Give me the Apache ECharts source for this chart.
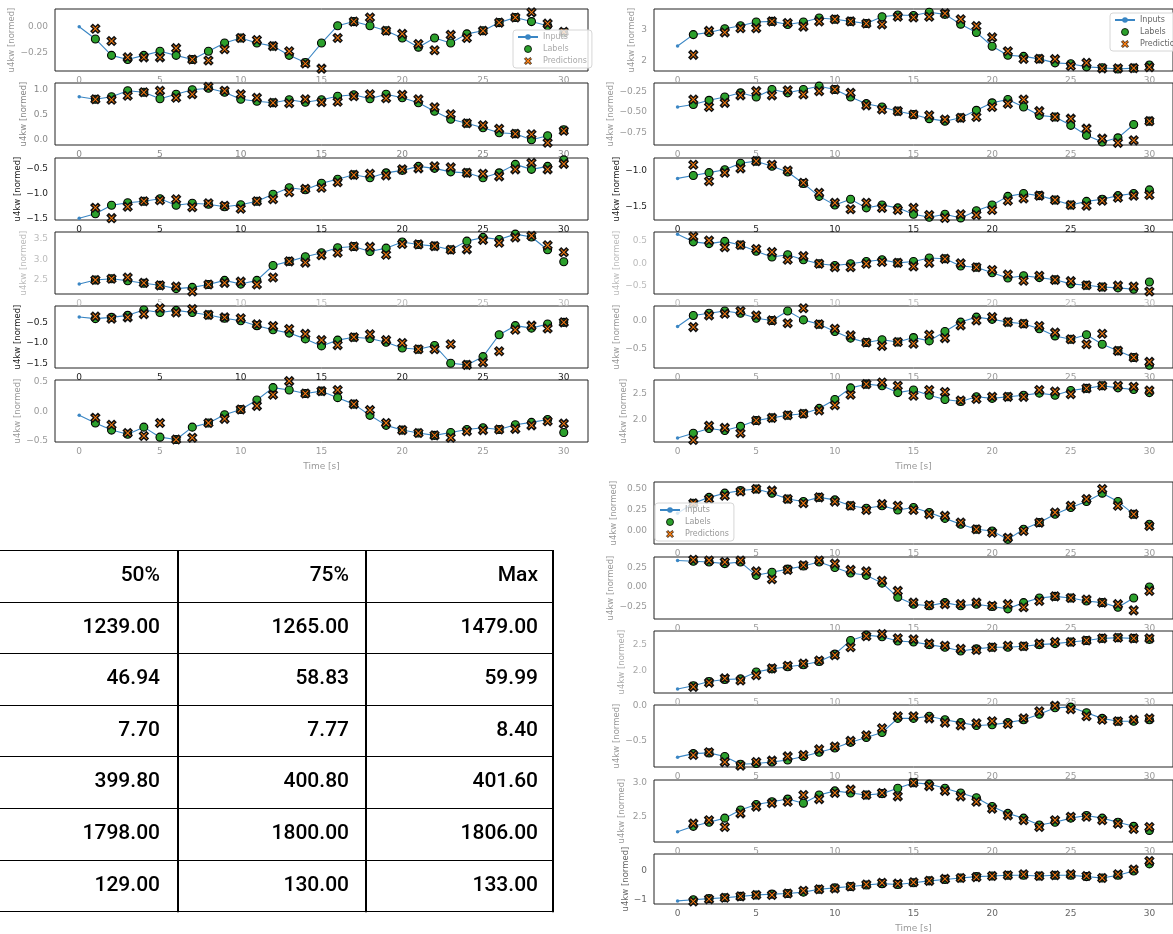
<!DOCTYPE html>
<html>
<head>
<meta charset="utf-8">
<script src="https://cdn.jsdelivr.net/npm/echarts@6/dist/echarts.min.js"></script>
<style>
html,body{margin:0;padding:0;background:#fff;}
#chart{width:1173px;height:934px;}
</style>
</head>
<body>
<div id="chart"></div>
<script>
// ---------- shared axis data ----------
const xTicks = [0, 5, 10, 15, 20, 25, 30];
const seriesNames = ['Inputs', 'Labels', 'Predictions'];
const yAxisTitle = 'u4kw [normed]';
const xAxisTitle = 'Time [s]';

// Each window: values at t = 0..30 (inputs are t = 0..29, labels t = 1..30),
// predictions at t = 1..30.

// ---------- left column ----------
const L1_values = [0.00, -0.12, -0.28, -0.32, -0.28, -0.24, -0.28, -0.32, -0.24, -0.16, -0.11, -0.16, -0.19, -0.28, -0.35, -0.16, 0.01, 0.05, 0.01, -0.04, -0.11, -0.20, -0.11, -0.16, -0.07, -0.04, 0.04, 0.09, 0.05, 0.01, -0.06];
const L1_preds = [-0.02, -0.14, -0.30, -0.30, -0.30, -0.21, -0.32, -0.33, -0.22, -0.11, -0.13, -0.19, -0.24, -0.36, -0.41, -0.11, 0.05, 0.09, -0.04, -0.07, -0.17, -0.23, -0.08, -0.11, -0.04, 0.04, 0.09, 0.14, 0.03, -0.05];
const L1_yticks = [-0.25, 0.00];
const L1_yrange = [-0.433, 0.173];

const L2_values = [0.85, 0.80, 0.85, 0.97, 0.94, 0.81, 0.90, 0.99, 1.02, 0.94, 0.80, 0.76, 0.73, 0.79, 0.74, 0.79, 0.86, 0.89, 0.81, 0.90, 0.83, 0.73, 0.56, 0.40, 0.32, 0.23, 0.13, 0.11, -0.01, 0.07, 0.19];
const L2_preds = [0.80, 0.79, 0.87, 0.94, 0.97, 0.83, 0.90, 1.05, 0.97, 0.90, 0.83, 0.73, 0.72, 0.80, 0.74, 0.75, 0.86, 0.90, 0.82, 0.89, 0.80, 0.64, 0.50, 0.32, 0.28, 0.21, 0.11, 0.10, -0.07, 0.17];
const L2_yticks = [0.0, 0.5, 1.0];
const L2_yrange = [-0.114, 1.126];

const L3_values = [-1.50, -1.41, -1.24, -1.19, -1.16, -1.11, -1.24, -1.20, -1.22, -1.27, -1.23, -1.16, -1.02, -0.89, -0.93, -0.80, -0.72, -0.63, -0.69, -0.59, -0.54, -0.46, -0.50, -0.57, -0.59, -0.69, -0.59, -0.42, -0.52, -0.46, -0.33];
const L3_preds = [-1.29, -1.50, -1.27, -1.16, -1.14, -1.12, -1.28, -1.20, -1.25, -1.31, -1.16, -1.12, -0.98, -0.91, -0.89, -0.78, -0.63, -0.61, -0.64, -0.52, -0.50, -0.46, -0.48, -0.59, -0.61, -0.66, -0.52, -0.39, -0.52, -0.41];
const L3_yticks = [-1.5, -1.0, -0.5];
const L3_yrange = [-1.537, -0.292];

const L4_values = [2.40, 2.50, 2.53, 2.48, 2.42, 2.37, 2.29, 2.32, 2.39, 2.49, 2.40, 2.49, 2.85, 2.95, 3.06, 3.16, 3.28, 3.31, 3.19, 3.27, 3.42, 3.36, 3.32, 3.23, 3.44, 3.53, 3.48, 3.61, 3.54, 3.23, 2.94];
const L4_preds = [2.50, 2.53, 2.56, 2.43, 2.37, 2.34, 2.22, 2.39, 2.43, 2.46, 2.39, 2.56, 2.95, 2.92, 3.10, 3.16, 3.31, 3.30, 3.11, 3.37, 3.36, 3.32, 3.23, 3.24, 3.47, 3.40, 3.53, 3.57, 3.34, 3.17];
const L4_yticks = [2.5, 3.0, 3.5];
const L4_yrange = [2.160, 3.661];

const L5_values = [-0.37, -0.41, -0.38, -0.33, -0.20, -0.26, -0.21, -0.26, -0.32, -0.40, -0.46, -0.58, -0.68, -0.76, -0.90, -1.07, -0.93, -0.86, -0.89, -0.98, -1.12, -1.15, -1.06, -1.49, -1.53, -1.33, -0.80, -0.58, -0.64, -0.54, -0.50];
const L5_preds = [-0.36, -0.41, -0.38, -0.30, -0.16, -0.26, -0.18, -0.32, -0.38, -0.40, -0.55, -0.59, -0.66, -0.78, -0.93, -1.05, -0.86, -0.79, -0.93, -1.00, -1.15, -1.15, -1.03, -1.53, -1.47, -1.20, -0.68, -0.58, -0.65, -0.50];
const L5_yticks = [-1.5, -1.0, -0.5];
const L5_yrange = [-1.605, -0.104];

const L6_values = [-0.07, -0.20, -0.32, -0.39, -0.27, -0.44, -0.48, -0.27, -0.20, -0.06, 0.03, 0.19, 0.40, 0.36, 0.30, 0.34, 0.23, 0.12, -0.07, -0.24, -0.32, -0.37, -0.41, -0.36, -0.31, -0.28, -0.31, -0.23, -0.19, -0.14, -0.36];
const L6_preds = [-0.11, -0.23, -0.37, -0.42, -0.20, -0.48, -0.45, -0.20, -0.13, 0.03, 0.09, 0.28, 0.51, 0.30, 0.34, 0.36, 0.12, 0.02, -0.20, -0.32, -0.37, -0.41, -0.45, -0.34, -0.32, -0.31, -0.30, -0.24, -0.17, -0.21];
const L6_yticks = [-0.5, 0.0, 0.5];
const L6_yrange = [-0.522, 0.529];

// ---------- right column, upper block ----------
const R1_values = [2.47, 2.84, 2.91, 3.03, 3.13, 3.25, 3.27, 3.17, 3.25, 3.38, 3.34, 3.27, 3.20, 3.42, 3.48, 3.46, 3.57, 3.50, 3.18, 2.91, 2.46, 2.17, 2.13, 2.05, 1.92, 1.89, 1.79, 1.76, 1.72, 1.75, 1.85];
const R1_preds = [2.18, 2.96, 2.91, 3.05, 3.05, 3.27, 3.22, 3.10, 3.27, 3.34, 3.27, 3.20, 3.17, 3.42, 3.40, 3.42, 3.53, 3.34, 3.12, 2.75, 2.30, 2.05, 2.05, 2.04, 1.82, 1.92, 1.74, 1.74, 1.75, 1.78];
const R1_yticks = [2, 3];
const R1_yrange = [1.655, 3.674];

const R2_values = [-0.44, -0.41, -0.36, -0.32, -0.27, -0.32, -0.23, -0.27, -0.23, -0.19, -0.23, -0.32, -0.40, -0.44, -0.49, -0.53, -0.58, -0.61, -0.57, -0.48, -0.39, -0.35, -0.44, -0.54, -0.56, -0.66, -0.78, -0.86, -0.81, -0.65, -0.61];
const R2_preds = [-0.35, -0.44, -0.39, -0.30, -0.25, -0.30, -0.24, -0.29, -0.25, -0.23, -0.27, -0.42, -0.47, -0.49, -0.53, -0.54, -0.59, -0.57, -0.56, -0.44, -0.40, -0.35, -0.49, -0.56, -0.58, -0.70, -0.82, -0.87, -0.84, -0.61];
const R2_yticks = [-0.75, -0.50, -0.25];
const R2_yrange = [-0.896, -0.152];

const R3_values = [-1.11, -1.07, -1.03, -0.99, -0.90, -0.87, -0.94, -1.02, -1.18, -1.36, -1.48, -1.40, -1.52, -1.48, -1.52, -1.61, -1.65, -1.61, -1.66, -1.56, -1.48, -1.36, -1.32, -1.35, -1.41, -1.48, -1.43, -1.40, -1.35, -1.32, -1.27];
const R3_preds = [-0.92, -1.15, -1.03, -0.97, -0.87, -0.92, -1.00, -1.17, -1.31, -1.45, -1.54, -1.45, -1.52, -1.55, -1.52, -1.62, -1.66, -1.61, -1.62, -1.55, -1.42, -1.39, -1.35, -1.41, -1.48, -1.49, -1.42, -1.38, -1.35, -1.34];
const R3_yticks = [-1.5, -1.0];
const R3_yrange = [-1.689, -0.826];

const R4_values = [0.65, 0.48, 0.44, 0.49, 0.41, 0.27, 0.14, 0.19, 0.08, -0.01, -0.05, -0.01, 0.04, 0.08, 0.01, 0.04, 0.12, 0.10, -0.06, -0.09, -0.21, -0.33, -0.28, -0.32, -0.37, -0.46, -0.49, -0.53, -0.55, -0.58, -0.42];
const R4_preds = [0.60, 0.51, 0.36, 0.41, 0.32, 0.25, 0.08, 0.16, -0.01, -0.09, -0.09, -0.01, 0.03, 0.01, -0.07, 0.01, 0.10, 0.00, -0.09, -0.15, -0.25, -0.39, -0.28, -0.37, -0.40, -0.49, -0.53, -0.50, -0.52, -0.63];
const R4_yticks = [-0.5, 0.0, 0.5];
const R4_yrange = [-0.687, 0.700];

const R5_values = [-0.10, 0.10, 0.14, 0.18, 0.14, 0.05, 0.01, 0.18, 0.02, -0.06, -0.19, -0.31, -0.39, -0.34, -0.38, -0.30, -0.36, -0.19, -0.02, 0.07, 0.03, -0.02, -0.05, -0.14, -0.27, -0.33, -0.25, -0.42, -0.54, -0.66, -0.80];
const R5_preds = [-0.11, 0.10, 0.13, 0.18, 0.10, 0.01, -0.04, 0.23, -0.06, -0.14, -0.26, -0.39, -0.45, -0.38, -0.41, -0.25, -0.31, -0.08, 0.01, 0.07, -0.02, -0.05, -0.09, -0.21, -0.33, -0.42, -0.23, -0.54, -0.66, -0.74];
const R5_yticks = [-0.5, 0.0];
const R5_yrange = [-0.850, 0.271];

const R6_values = [1.66, 1.75, 1.84, 1.80, 1.88, 1.99, 2.04, 2.09, 2.12, 2.22, 2.39, 2.61, 2.68, 2.65, 2.52, 2.57, 2.47, 2.39, 2.35, 2.44, 2.41, 2.44, 2.47, 2.51, 2.47, 2.56, 2.60, 2.65, 2.61, 2.58, 2.52];
const R6_preds = [1.62, 1.89, 1.85, 1.75, 1.99, 2.04, 2.09, 2.12, 2.18, 2.28, 2.48, 2.68, 2.71, 2.65, 2.46, 2.57, 2.53, 2.37, 2.40, 2.44, 2.44, 2.44, 2.57, 2.54, 2.49, 2.60, 2.65, 2.65, 2.63, 2.56];
const R6_yticks = [2.0, 2.5];
const R6_yrange = [1.583, 2.759];

// ---------- right column, lower block ----------
const B1_values = [0.21, 0.33, 0.40, 0.45, 0.48, 0.50, 0.45, 0.38, 0.35, 0.40, 0.37, 0.30, 0.27, 0.30, 0.25, 0.28, 0.22, 0.15, 0.08, 0.02, 0.00, -0.10, 0.02, 0.10, 0.20, 0.28, 0.35, 0.45, 0.35, 0.20, 0.08];
const B1_preds = [0.33, 0.38, 0.42, 0.47, 0.50, 0.48, 0.38, 0.33, 0.40, 0.35, 0.30, 0.25, 0.32, 0.30, 0.25, 0.20, 0.18, 0.10, 0.02, -0.02, -0.08, 0.00, 0.10, 0.22, 0.30, 0.38, 0.50, 0.30, 0.20, 0.06];
const B1_yticks = [0.00, 0.25, 0.50];
const B1_yrange = [-0.155, 0.583];

const B2_values = [0.34, 0.33, 0.32, 0.30, 0.32, 0.15, 0.19, 0.23, 0.27, 0.32, 0.25, 0.18, 0.15, 0.05, -0.13, -0.22, -0.24, -0.20, -0.24, -0.22, -0.25, -0.28, -0.20, -0.14, -0.12, -0.14, -0.18, -0.20, -0.26, -0.14, 0.00];
const B2_preds = [0.35, 0.34, 0.32, 0.34, 0.20, 0.10, 0.22, 0.28, 0.34, 0.30, 0.22, 0.20, 0.08, -0.05, -0.20, -0.23, -0.22, -0.22, -0.20, -0.24, -0.22, -0.26, -0.18, -0.12, -0.14, -0.16, -0.20, -0.22, -0.30, -0.05];
const B2_yticks = [-0.25, 0.00, 0.25];
const B2_yrange = [-0.41, 0.385];

const B3_values = [1.66, 1.72, 1.80, 1.84, 1.85, 1.98, 2.04, 2.08, 2.12, 2.18, 2.32, 2.58, 2.68, 2.65, 2.57, 2.55, 2.50, 2.45, 2.38, 2.42, 2.45, 2.45, 2.47, 2.50, 2.52, 2.55, 2.58, 2.62, 2.63, 2.62, 2.60];
const B3_preds = [1.70, 1.78, 1.86, 1.82, 1.92, 2.05, 2.10, 2.14, 2.20, 2.30, 2.45, 2.66, 2.70, 2.62, 2.60, 2.52, 2.48, 2.42, 2.40, 2.45, 2.48, 2.47, 2.52, 2.55, 2.55, 2.58, 2.62, 2.63, 2.62, 2.62];
const B3_yticks = [2.0, 2.5];
const B3_yrange = [1.583, 2.759];

const B4_values = [-0.73, -0.68, -0.67, -0.72, -0.83, -0.82, -0.80, -0.77, -0.72, -0.66, -0.60, -0.52, -0.45, -0.38, -0.18, -0.18, -0.15, -0.20, -0.24, -0.28, -0.27, -0.24, -0.20, -0.12, -0.03, -0.02, -0.10, -0.18, -0.22, -0.22, -0.20];
const B4_preds = [-0.70, -0.66, -0.80, -0.85, -0.80, -0.78, -0.72, -0.70, -0.62, -0.58, -0.50, -0.42, -0.32, -0.15, -0.15, -0.18, -0.24, -0.28, -0.25, -0.22, -0.26, -0.18, -0.08, 0.00, -0.05, -0.15, -0.20, -0.22, -0.20, -0.18];
const B4_yticks = [-0.5, 0.0];
const B4_yrange = [-0.87, 0.01];

const B5_values = [2.28, 2.36, 2.42, 2.48, 2.60, 2.68, 2.72, 2.76, 2.70, 2.82, 2.88, 2.85, 2.82, 2.84, 2.92, 3.00, 2.98, 2.92, 2.85, 2.78, 2.65, 2.55, 2.48, 2.38, 2.42, 2.48, 2.52, 2.48, 2.42, 2.36, 2.30];
const B5_preds = [2.40, 2.45, 2.35, 2.55, 2.65, 2.70, 2.72, 2.82, 2.76, 2.85, 2.90, 2.82, 2.85, 2.80, 3.00, 2.95, 2.88, 2.80, 2.72, 2.62, 2.52, 2.45, 2.35, 2.45, 2.50, 2.50, 2.45, 2.40, 2.32, 2.35];
const B5_yticks = [2.5, 3.0];
const B5_yrange = [2.13, 3.04];

const B6_values = [-1.06, -1.02, -0.98, -0.95, -0.90, -0.85, -0.82, -0.80, -0.75, -0.65, -0.60, -0.55, -0.50, -0.45, -0.48, -0.42, -0.35, -0.30, -0.25, -0.20, -0.18, -0.15, -0.15, -0.18, -0.15, -0.15, -0.20, -0.25, -0.15, 0.00, 0.25];
const B6_preds = [-1.08, -1.00, -0.95, -0.90, -0.85, -0.85, -0.80, -0.70, -0.65, -0.62, -0.55, -0.48, -0.42, -0.45, -0.40, -0.35, -0.28, -0.25, -0.22, -0.18, -0.15, -0.12, -0.18, -0.15, -0.12, -0.18, -0.25, -0.12, 0.05, 0.35];
const B6_yticks = [-1, 0];
const B6_yrange = [-1.17, 0.60];

// ---------- summary table ----------
const tableHeader = ['50%', '75%', 'Max'];
const col50 = [1239.00, 46.94, 7.70, 399.80, 1798.00, 129.00];
const col75 = [1265.00, 58.83, 7.77, 400.80, 1800.00, 130.00];
const colMax = [1479.00, 59.99, 8.40, 401.60, 1806.00, 133.00];

// ---------- layout ----------
const blocks = [
  { left: 55, tops: [9, 83, 158, 232, 306, 380],
    ink: ['#999', '#888', '#222', '#bbb', '#222', '#999'],
    nameGap: [38, 27, 32, 27, 32, 32],
    legend: { left: 513, top: 30, color: '#aaa' } },
  { left: 654, tops: [9, 83, 158, 232, 306, 380],
    ink: ['#999', '#999', '#222', '#bbb', '#999', '#999'],
    nameGap: [18, 37, 31, 31, 32, 25],
    legend: { left: 1110, top: 13, color: '#666' } },
  { left: 654, tops: [482, 557, 631, 705, 780, 854],
    ink: ['#999', '#999', '#aaa', '#999', '#999', '#666'],
    nameGap: [36, 36, 28, 28, 28, 20],
    legend: { left: 655, top: 503, color: '#999' } }
];
const plotWidth = 533;
const plotHeight = 62;

const panelData = [
  [[L1_values, L1_preds, L1_yticks, L1_yrange, 2], [L2_values, L2_preds, L2_yticks, L2_yrange, 1],
   [L3_values, L3_preds, L3_yticks, L3_yrange, 1], [L4_values, L4_preds, L4_yticks, L4_yrange, 1],
   [L5_values, L5_preds, L5_yticks, L5_yrange, 1], [L6_values, L6_preds, L6_yticks, L6_yrange, 1]],
  [[R1_values, R1_preds, R1_yticks, R1_yrange, 0], [R2_values, R2_preds, R2_yticks, R2_yrange, 2],
   [R3_values, R3_preds, R3_yticks, R3_yrange, 1], [R4_values, R4_preds, R4_yticks, R4_yrange, 1],
   [R5_values, R5_preds, R5_yticks, R5_yrange, 1], [R6_values, R6_preds, R6_yticks, R6_yrange, 1]],
  [[B1_values, B1_preds, B1_yticks, B1_yrange, 2], [B2_values, B2_preds, B2_yticks, B2_yrange, 2],
   [B3_values, B3_preds, B3_yticks, B3_yrange, 1], [B4_values, B4_preds, B4_yticks, B4_yrange, 1],
   [B5_values, B5_preds, B5_yticks, B5_yrange, 1], [B6_values, B6_preds, B6_yticks, B6_yrange, 0]]
];

const FONT = 'DejaVu Sans';
const lineColor = '#3a86c4';
const labelColor = '#2ca02c';
const predColor = '#ff7f0e';
const xMarker = 'path://M0,2 L2,0 L5,3 L8,0 L10,2 L7,5 L10,8 L8,10 L5,7 L2,10 L0,8 L3,5 Z';

function tickText(dec) {
  return function (v) {
    const s = Math.abs(v).toFixed(dec);
    return (v < -1e-9 ? '\u2212' : '') + s;
  };
}

const grid = [], xAxis = [], yAxis = [], series = [], legend = [];
let idx = 0;
blocks.forEach((blk, g) => {
  panelData[g].forEach((pd, r) => {
    const [vals, preds, yticks, yrange, dec] = pd;
    const ink = blk.ink[r];
    grid.push({ left: blk.left, top: blk.tops[r], width: plotWidth, height: plotHeight,
      show: true, borderColor: '#222', borderWidth: 1, backgroundColor: 'transparent' });
    const isLast = r === 5;
    xAxis.push({
      type: 'value', gridIndex: idx, min: -1.5, max: 31.5,
      splitLine: { show: false }, axisLine: { show: false }, axisTick: { show: false },
      axisLabel: { customValues: xTicks, color: ink, fontFamily: FONT, fontSize: 9, margin: 5 },
      name: isLast ? xAxisTitle : '', nameLocation: 'middle', nameGap: 20,
      nameTextStyle: { color: '#999', fontFamily: FONT, fontSize: 9 }
    });
    yAxis.push({
      type: 'value', gridIndex: idx, min: yrange[0], max: yrange[1],
      splitLine: { show: false }, axisLine: { show: false }, axisTick: { show: false },
      axisLabel: { customValues: yticks, formatter: tickText(dec), color: ink, fontFamily: FONT, fontSize: 9, margin: 7 },
      name: yAxisTitle, nameLocation: 'middle', nameRotate: 90, nameGap: blk.nameGap[r],
      nameTextStyle: { color: ink, fontFamily: FONT, fontSize: 8.5 }
    });
    const inputs = vals.slice(0, 30).map((v, i) => [i, v]);
    const labels = vals.slice(1).map((v, i) => [i + 1, v]);
    const predPts = preds.map((v, i) => [i + 1, v]);
    series.push({
      name: seriesNames[0], type: 'line', xAxisIndex: idx, yAxisIndex: idx, data: inputs,
      symbol: 'circle', symbolSize: 3.5, showSymbol: true, z: 2,
      lineStyle: { color: lineColor, width: 1.1 }, itemStyle: { color: lineColor },
      animation: false, silent: true
    });
    series.push({
      name: seriesNames[1], type: 'scatter', xAxisIndex: idx, yAxisIndex: idx, data: labels,
      symbol: 'circle', symbolSize: 8, z: 3,
      itemStyle: { color: labelColor, borderColor: '#000', borderWidth: 1.1, opacity: 1 },
      animation: false, silent: true
    });
    series.push({
      name: seriesNames[2], type: 'scatter', xAxisIndex: idx, yAxisIndex: idx, data: predPts,
      symbol: xMarker, symbolSize: 8.5, z: 4,
      itemStyle: { color: predColor, borderColor: '#111', borderWidth: 1.5, opacity: 1 },
      animation: false, silent: true
    });
    idx++;
  });
  legend.push({
    show: true, left: blk.legend.left, top: blk.legend.top, orient: 'vertical',
    data: [
      { name: seriesNames[0] },
      { name: seriesNames[1], icon: 'circle', itemStyle: { color: labelColor, borderColor: '#000', borderWidth: 0.8 } },
      { name: seriesNames[2], icon: xMarker, itemStyle: { color: predColor, borderColor: '#000', borderWidth: 0.8 } }
    ],
    itemWidth: 20, itemHeight: 7, itemGap: 4,
    padding: [3, 5, 3, 4], backgroundColor: 'rgba(255,255,255,0.8)',
    borderColor: '#d6d6d6', borderWidth: 1, borderRadius: 3,
    textStyle: { color: blk.legend.color, fontFamily: FONT, fontSize: 8 },
    selectedMode: false, z: 10
  });
});

// table drawn as graphic elements
const tableTop = 550, rowH = 51.6, rowsN = 7;
const colLines = [178, 366, 553];
const colRight = [160, 349, 538];
const tableCols = [col50, col75, colMax];
const graphics = [];
for (let k = 0; k <= rowsN; k++) {
  const y = Math.round(tableTop + k * rowH) + 0.5;
  graphics.push({ type: 'line', shape: { x1: 0, y1: y, x2: colLines[2] + 1, y2: y },
    style: { stroke: '#000', lineWidth: 1 }, silent: true });
}
colLines.forEach(x => {
  graphics.push({ type: 'line', shape: { x1: x, y1: tableTop, x2: x, y2: tableTop + rowsN * rowH + 1 },
    style: { stroke: '#000', lineWidth: 2 }, silent: true });
});
const cellFont = { fontFamily: 'Roboto', fontSize: 21, fontWeight: 500 };
tableHeader.forEach((h, c) => {
  graphics.push({ type: 'text', x: colRight[c], y: tableTop + rowH / 2,
    style: Object.assign({ text: h, fill: '#000', align: 'right', verticalAlign: 'middle' }, cellFont), silent: true });
});
tableCols.forEach((col, c) => {
  col.forEach((v, r) => {
    graphics.push({ type: 'text', x: colRight[c], y: tableTop + (r + 1) * rowH + rowH / 2,
      style: Object.assign({ text: v.toFixed(2), fill: '#000', align: 'right', verticalAlign: 'middle' }, cellFont), silent: true });
  });
});

const chart = echarts.init(document.getElementById('chart'), null, { renderer: 'canvas' });
chart.setOption({
  animation: false,
  backgroundColor: '#fff',
  grid, xAxis, yAxis, series, legend,
  graphic: { elements: graphics }
});
</script>
</body>
</html>
